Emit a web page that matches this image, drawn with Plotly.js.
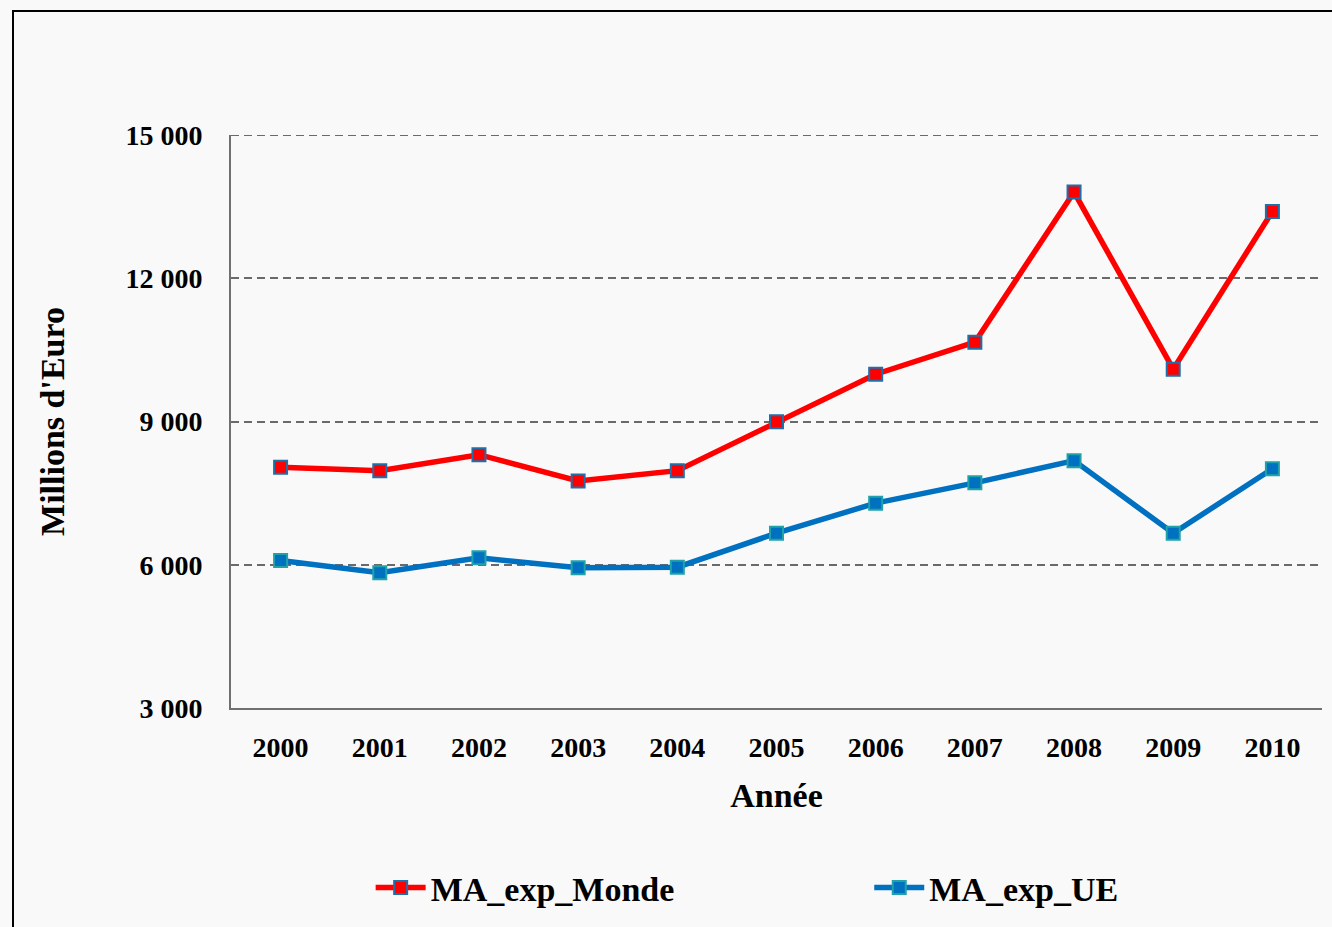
<!DOCTYPE html>
<html>
<head>
<meta charset="utf-8">
<script src="https://cdn.plot.ly/plotly-3.0.1.min.js"></script>
<style>
  html, body { margin: 0; padding: 0; background: #f9f9f9; }
  #wrap { position: relative; width: 1332px; height: 927px; }
  #chart { position: absolute; left: 0; top: 0; width: 1332px; height: 927px; }
  #frame { position: absolute; left: 12px; top: 10px; width: 1330px; height: 930px;
           border-left: 2px solid #000; border-top: 2px solid #000; pointer-events: none; }
</style>
</head>
<body>
<div id="wrap">
  <div id="chart"></div>
  <div id="frame"></div>
</div>
<script>
const years = ["2000","2001","2002","2003","2004","2005","2006","2007","2008","2009","2010"];
const monde = [8040, 7970, 8305, 7755, 7970, 8995, 9990, 10660, 13805, 10095, 13400];
const ue    = [6090, 5835, 6145, 5935, 5950, 6660, 7290, 7715, 8180, 6660, 8010];
const yTickVals = [3000, 6000, 9000, 12000, 15000];
const yTickText = ["3 000", "6 000", "9 000", "12 000", "15 000"];
const yMax = 15000;

const fontFam = "'Liberation Serif', 'DejaVu Serif', serif";
const legFont = { family: fontFam, size: 34, color: "#000", weight: "bold" };

const traces = [
  {
    x: years, y: monde, name: "MA_exp_Monde", type: "scatter", mode: "lines+markers",
    legend: "legend",
    line: { color: "#FF0000", width: 5.5 },
    marker: { symbol: "square", size: 13, color: "#FF0000", line: { color: "#1F6FAA", width: 2 } }
  },
  {
    x: years, y: ue, name: "MA_exp_UE", type: "scatter", mode: "lines+markers",
    legend: "legend2",
    line: { color: "#0070C0", width: 5.5 },
    marker: { symbol: "square", size: 13, color: "#0070C0", line: { color: "#1FA3A8", width: 2 } }
  }
];

const layout = {
  width: 1332, height: 927,
  margin: { l: 231, r: 10, t: 135, b: 219, autoexpand: false },
  paper_bgcolor: "rgba(0,0,0,0)",
  plot_bgcolor: "rgba(0,0,0,0)",
  font: { family: fontFam, color: "#000" },
  showlegend: true,
  legend: {
    orientation: "h", x: 0.128, xanchor: "left", y: -0.314, yanchor: "middle",
    font: legFont, bgcolor: "rgba(0,0,0,0)", itemwidth: 50
  },
  legend2: {
    orientation: "h", x: 0.585, xanchor: "left", y: -0.314, yanchor: "middle",
    font: legFont, bgcolor: "rgba(0,0,0,0)", itemwidth: 50
  },
  shapes: [
    { type: "line", xref: "paper", yref: "y", x0: 0, x1: 1, y0: yMax, y1: yMax,
      line: { color: "#6a6a6a", width: 2, dash: "8px,5px" }, layer: "below" }
  ],
  xaxis: {
    type: "category", range: [-0.5, 10.5],
    showgrid: false, zeroline: false, automargin: false,
    showline: true, linecolor: "#707070", linewidth: 2,
    ticks: "outside", ticklen: 13, tickcolor: "rgba(0,0,0,0)",
    tickfont: { family: fontFam, size: 28, color: "#000", weight: "bold" },
    title: { text: "Année", font: { family: fontFam, size: 34, color: "#000", weight: "bold" }, standoff: 22 }
  },
  yaxis: {
    range: [3000, yMax], automargin: false,
    tickvals: yTickVals, ticktext: yTickText,
    showgrid: true, gridcolor: "#6a6a6a", gridwidth: 2, griddash: "8px,5px",
    zeroline: false,
    showline: true, linecolor: "#707070", linewidth: 2,
    ticks: "outside", ticklen: 21, tickcolor: "rgba(0,0,0,0)",
    tickfont: { family: fontFam, size: 28, color: "#000", weight: "bold" },
    title: { text: "Millions d'Euro", font: { family: fontFam, size: 34, color: "#000", weight: "bold" }, standoff: 51 }
  }
};

Plotly.newPlot("chart", traces, layout, { displayModeBar: false, staticPlot: true });
</script>
</body>
</html>
